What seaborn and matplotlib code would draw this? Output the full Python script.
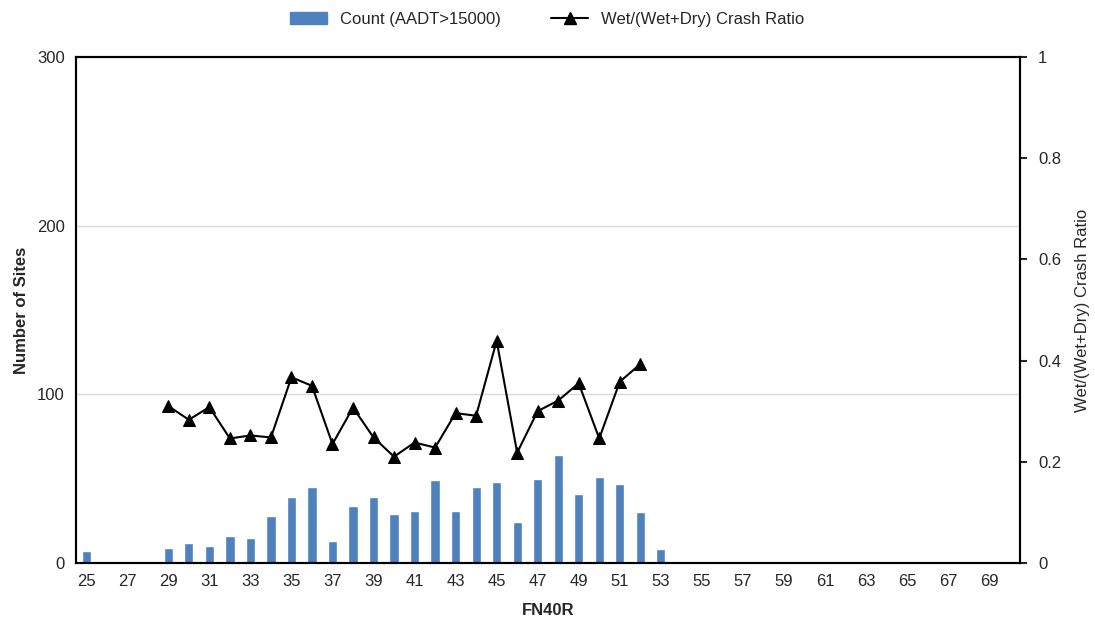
import numpy as np
import pandas as pd
import matplotlib.pyplot as plt
from matplotlib.lines import Line2D
from matplotlib.patches import Patch
import seaborn as sns

# data
fn40r = list(range(25, 71))
count_vals = {25: 7, 29: 9, 30: 12, 31: 10, 32: 16, 33: 15, 34: 28, 35: 39,
              36: 45, 37: 13, 38: 34, 39: 39, 40: 29, 41: 31, 42: 49, 43: 31,
              44: 45, 45: 48, 46: 24, 47: 50, 48: 64, 49: 41, 50: 51, 51: 47,
              52: 30, 53: 8}
counts = [count_vals.get(v, 0) for v in fn40r]

ratio_x = list(range(29, 53))
ratio = [0.310, 0.283, 0.308, 0.246, 0.252, 0.248, 0.367, 0.350, 0.235, 0.307,
         0.248, 0.210, 0.238, 0.228, 0.296, 0.291, 0.439, 0.218, 0.300, 0.321,
         0.355, 0.246, 0.358, 0.393]

bar_color = "#4F81BD"

sns.set_style("white")
plt.rcParams['font.family'] = ['Liberation Sans', 'DejaVu Sans']
plt.rcParams['font.size'] = 12

df_bar = pd.DataFrame({'FN40R': fn40r, 'Count': counts})
df_line = pd.DataFrame({'FN40R': ratio_x, 'Ratio': ratio})

fig = plt.figure(figsize=(10.95, 6.29), dpi=100)
ax = fig.add_axes([0.0694, 0.105, 0.862, 0.8045])

sns.barplot(data=df_bar, x='FN40R', y='Count', native_scale=True, color=bar_color,
            saturation=1, width=0.45, ax=ax, zorder=2)
ax.set_xlim(24.5, 70.5)
ax.set_ylim(0, 300)
ax.set_yticks([0, 100, 200, 300])
ax.set_xticks(list(range(25, 70, 2)))
ax.yaxis.grid(True, color="#D9D9D9", lw=1)
ax.set_axisbelow(True)
for s in ax.spines.values():
    s.set_color('black')
    s.set_linewidth(1.5)
ax.tick_params(axis='both', length=0, labelsize=12, pad=8)
ax.set_xlabel('FN40R', fontweight='bold', fontsize=12, labelpad=10)
ax.set_ylabel('Number of Sites', fontweight='bold', fontsize=12, labelpad=6)

ax2 = ax.twinx()
sns.lineplot(data=df_line, x='FN40R', y='Ratio', color='black', lw=1.5, marker='^',
             markersize=9, markeredgecolor='black', ax=ax2)
ax2.set_ylim(0, 1)
ax2.set_yticks([0, 0.2, 0.4, 0.6, 0.8, 1])
ax2.set_yticklabels(['0', '0.2', '0.4', '0.6', '0.8', '1'])
ax2.tick_params(axis='y', length=5, width=1.5, direction='out', labelsize=12, pad=8)
ax2.set_ylabel('Wet/(Wet+Dry) Crash Ratio', fontsize=12, labelpad=10)
for s in ax2.spines.values():
    s.set_color('black')
    s.set_linewidth(1.5)

handles = [Patch(color=bar_color),
           Line2D([0], [0], color='black', lw=1.5, marker='^', markersize=8)]
fig.legend(handles, ['Count (AADT>15000)', 'Wet/(Wet+Dry) Crash Ratio'],
           loc='upper center', bbox_to_anchor=(0.5, 1.005), ncol=2, frameon=False,
           fontsize=12, handlelength=2.2, columnspacing=3)

fig.savefig('out.png', dpi=100)
